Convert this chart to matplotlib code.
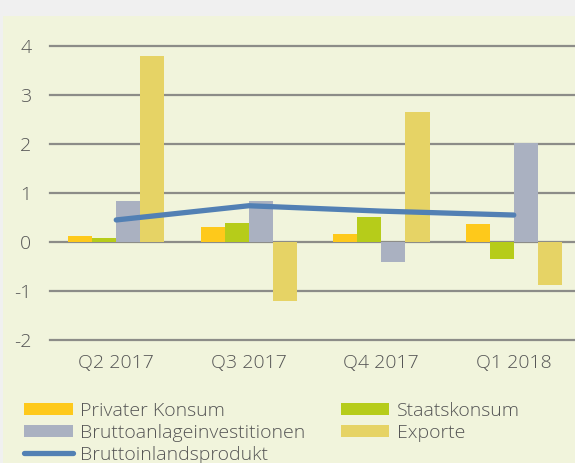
import matplotlib
matplotlib.use('Agg')
import matplotlib.pyplot as plt
from matplotlib.patches import Rectangle
import numpy as np

plt.rcParams['font.family'] = ['Open Sans', 'DejaVu Sans']

quarters = ['Q2 2017', 'Q3 2017', 'Q4 2017', 'Q1 2018']
privater_konsum = [0.12, 0.30, 0.17, 0.37]
staatskonsum = [0.08, 0.38, 0.52, -0.34]
bruttoanlage = [0.83, 0.84, -0.40, 2.03]
exporte = [3.80, -1.20, 2.66, -0.88]
bip = [0.45, 0.74, 0.63, 0.55]

bar_series = [
    ('Privater Konsum', privater_konsum, '#fec91b'),
    ('Staatskonsum', staatskonsum, '#b6cc1a'),
    ('Bruttoanlageinvestitionen', bruttoanlage, '#aab1c1'),
    ('Exporte', exporte, '#e6d365'),
]

fig = plt.figure(figsize=(5.75, 4.63), dpi=100)
fig.patch.set_facecolor('#f0f0f0')
fig.patches.append(Rectangle((3 / 575, 0), 1, 1 - 16 / 463, transform=fig.transFigure,
                             facecolor='#f1f4dc', edgecolor='none', zorder=-10))

ax = fig.add_axes([50 / 575, 123 / 463, 525 / 575, 294 / 463])
ax.set_facecolor('none')

x = np.arange(len(quarters))
w = 0.182
handles = {}
for i, (name, vals, col) in enumerate(bar_series):
    b = ax.bar(x + (i - 1.5) * w, vals, w, color=col, zorder=3, label=name)
    handles[name] = b
line, = ax.plot(x, bip, color='#5280b4', lw=3.8, solid_capstyle='round', zorder=4,
                label='Bruttoinlandsprodukt')

ax.set_xlim(-0.5, 3.462)
ax.set_ylim(-2, 4)
ax.set_yticks(range(-2, 5))
ax.set_yticklabels([str(v) for v in range(-2, 5)])
ax.set_xticks(x)
ax.set_xticklabels(quarters)
for v in range(-2, 5):
    ax.axhline(v, color='#8c8c88', lw=1.6, zorder=2, clip_on=False)
for s in ax.spines.values():
    s.set_visible(False)
ax.tick_params(axis='both', length=0, labelsize=14, colors='#555555')
ax.tick_params(axis='y', pad=13.5)
ax.tick_params(axis='x', pad=10)
for t in ax.get_xticklabels() + ax.get_yticklabels():
    t.set_fontweight('light')

order = [handles['Privater Konsum'], handles['Bruttoanlageinvestitionen'], line,
         handles['Staatskonsum'], handles['Exporte']]
labels = ['Privater Konsum', 'Bruttoanlageinvestitionen', 'Bruttoinlandsprodukt',
          'Staatskonsum', 'Exporte']
leg = fig.legend(order, labels, ncol=2, loc='upper left', bbox_to_anchor=(24 / 575, 1 - 402 / 463),
                 frameon=False, fontsize=14, labelcolor='#555555', handlelength=2.5,
                 handleheight=0.55, handletextpad=0.4, labelspacing=0.2, columnspacing=1.8,
                 borderaxespad=0, borderpad=0)
for t in leg.get_texts():
    t.set_fontweight('light')

fig.savefig('out.png', dpi=100, facecolor=fig.get_facecolor())
